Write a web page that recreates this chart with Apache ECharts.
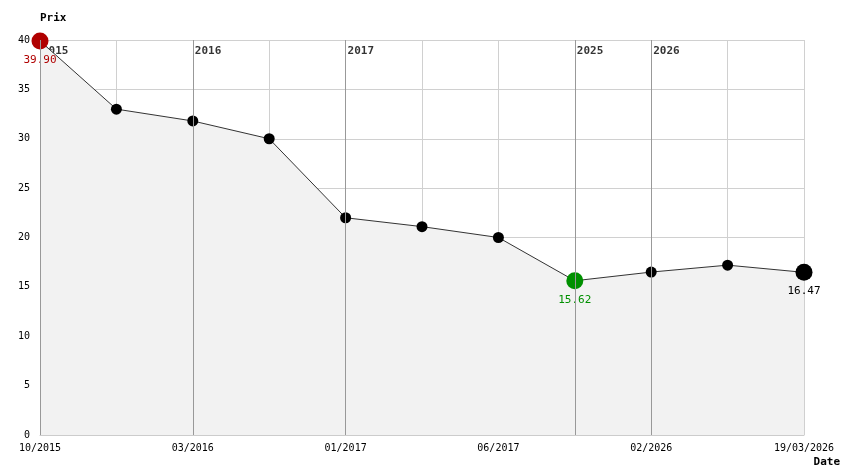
<!DOCTYPE html>
<html><head><meta charset="utf-8">
<script src="https://cdn.jsdelivr.net/npm/echarts@6/dist/echarts.min.js"></script>
<style>body{margin:0}#c{width:844px;height:474px}</style></head>
<body><div id="c"></div>
<script>
const categories = ['10/2015','','03/2016','','01/2017','','06/2017','','02/2026','','19/03/2026'];
const prices = [39.90, 33.0, 31.8, 30.0, 22.0, 21.1, 20.0, 15.62, 16.5, 17.2, 16.47];
const yearIdx = [0, 2, 4, 7, 8];
const yearLabels = ['2015','2016','2017','2025','2026'];
const font = 'DejaVu Sans Mono';
const chart = echarts.init(document.getElementById('c'));
const data = prices.map((v,i)=>{
  if(i===0) return {value:v,symbolSize:17,itemStyle:{color:'#b00000'},label:{show:true,position:'bottom',color:'#b00000',formatter:'39.90'}};
  if(i===7) return {value:v,symbolSize:17,itemStyle:{color:'#009000'},label:{show:true,position:'bottom',color:'#009000',formatter:'15.62'}};
  if(i===10) return {value:v,symbolSize:17,itemStyle:{color:'#000'},label:{show:true,position:'bottom',color:'#000',formatter:'16.47'}};
  return v;
});
chart.setOption({
  animation:false,
  textStyle:{fontFamily:font},
  grid:{left:40,right:40,top:40,bottom:39},
  xAxis:{type:'category',data:categories,boundaryGap:false,
    axisLine:{lineStyle:{color:'#ccc'}},axisTick:{show:false},
    axisLabel:{color:'#000',fontSize:10,fontFamily:font,interval:0,margin:8},
    splitLine:{show:true,lineStyle:{color:'#d0d0d0'}}},
  yAxis:{type:'value',min:0,max:40,interval:5,
    axisLine:{show:false},axisTick:{show:false},
    axisLabel:{color:'#000',fontSize:10,fontFamily:font,margin:10},
    splitLine:{lineStyle:{color:'#d0d0d0'}},
    name:'Prix',nameGap:16,
    nameTextStyle:{fontWeight:'bold',fontSize:11,color:'#000',align:'left'}},
  series:[
    {type:'line',data:data,symbol:'circle',symbolSize:11,
     itemStyle:{color:'#000'},lineStyle:{color:'#333',width:1},
     areaStyle:{color:'#f2f2f2',opacity:1},
     label:{fontSize:11,fontFamily:font},
     markLine:{silent:true,symbol:'none',label:{show:false},
       lineStyle:{color:'#999',type:'solid',width:1},
       data:yearIdx.map(i=>({xAxis:i}))},
     z:3},
    {type:'scatter',symbolSize:0,
     data:yearIdx.map((i,k)=>({value:[i,38.9],label:{formatter:yearLabels[k]}})),
     label:{show:true,position:'right',distance:2,color:'#000',fontWeight:'bold',fontSize:11,fontFamily:font},z:2}
  ],
  graphic:[
    {type:'text',right:4,top:457,style:{text:'Date',fill:'#000',font:'bold 11px '+font}},
    {type:'text',left:50,top:380,style:{text:'Initial : 39.90',fill:'#000',font:'11px '+font}},
    {type:'text',left:50,top:394,style:{text:'Mini : 15.62',fill:'#009000',font:'11px '+font}},
    {type:'text',left:50,top:408,style:{text:'Max : 39.90',fill:'#d00000',font:'11px '+font}},
    {type:'text',left:50,top:422,style:{text:'Actuel : 16.47',fill:'#000',font:'11px '+font}}
  ]
});
</script></body></html>
